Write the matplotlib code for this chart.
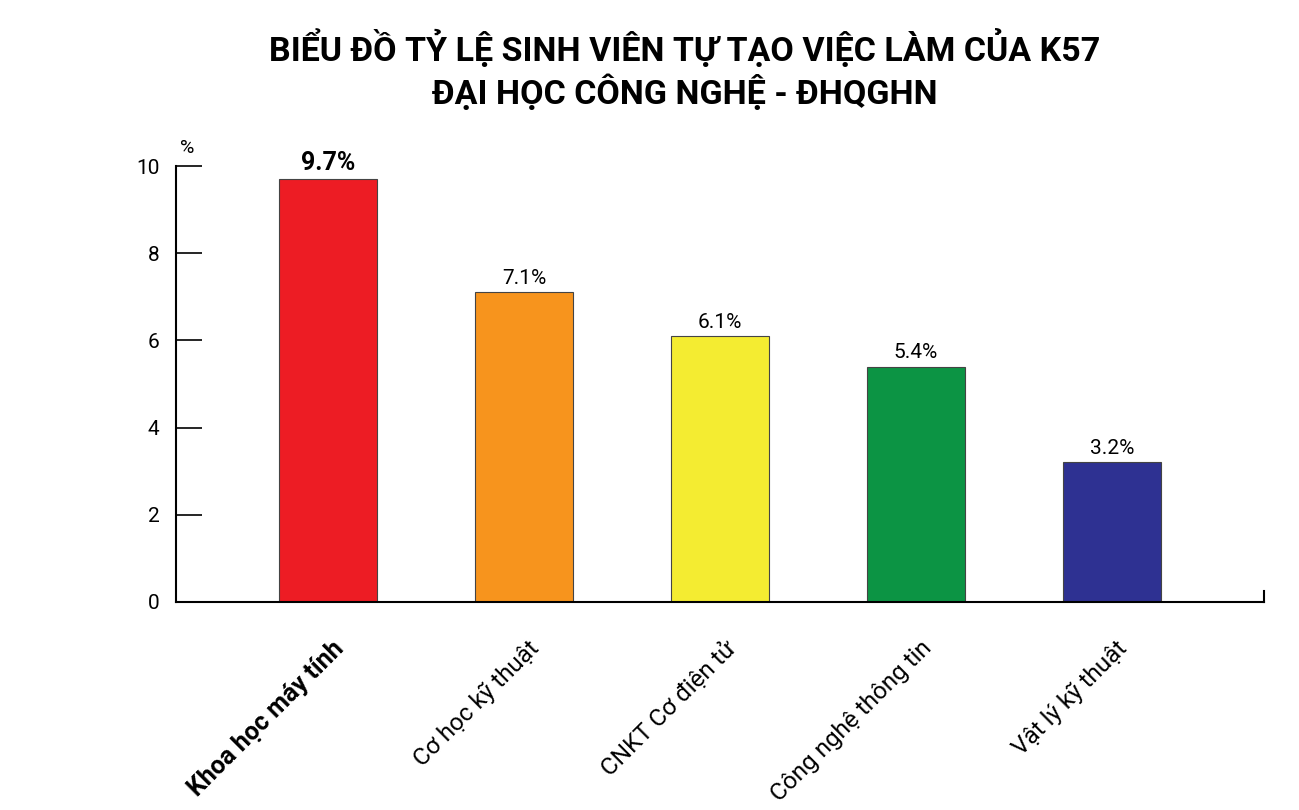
import matplotlib
matplotlib.use("Agg")
import matplotlib.pyplot as plt

plt.rcParams['font.family'] = ['Roboto', 'Noto Sans', 'DejaVu Sans']

# data
majors = ["Khoa học máy tính", "Cơ học kỹ thuật", "CNKT Cơ điện tử",
          "Công nghệ thông tin", "Vật lý kỹ thuật"]
rates = [9.7, 7.1, 6.1, 5.4, 3.2]
bar_colors = ["#ED1C24", "#F7941D", "#F4EC31", "#0C9444", "#2E3192"]
yticks = [0, 2, 4, 6, 8, 10]

fig = plt.figure(figsize=(12.99, 8.10), dpi=100)
ax = fig.add_axes([0.1355, 0.2568, 0.973 - 0.1355, 0.795 - 0.2568])

x = range(len(majors))
bars = ax.bar(x, rates, width=0.5, color=bar_colors,
              edgecolor="#444444", linewidth=0.8)

ax.set_xlim(-0.776, len(majors) - 1 + 0.776)
ax.set_ylim(0, 10)
ax.set_yticks(yticks)
ax.set_yticklabels([str(t) for t in yticks], fontsize=15)
ax.tick_params(axis="y", direction="in", length=19, width=1.2, pad=12)
ax.tick_params(axis="x", length=0)

ax.set_xticks(list(x))
ax.set_xticklabels([])
for i, name in enumerate(majors):
    ax.text(i + 0.02, -0.8, name, rotation=45, ha="right", va="top",
            rotation_mode="anchor", fontsize=18 if i == 0 else 17.5,
            fontweight="bold" if i == 0 else "normal")

ax.spines["top"].set_visible(False)
ax.spines["left"].set_linewidth(1.5)
ax.spines["bottom"].set_linewidth(1.5)
ax.spines["right"].set_linewidth(1.5)
ax.spines["right"].set_bounds(0, 0.25)

for i, (b, v) in enumerate(zip(bars, rates)):
    ax.text(b.get_x() + b.get_width() / 2, v + 0.1, f"{v}%",
            ha="center", va="bottom",
            fontsize=18 if i == 0 else 15,
            fontweight="bold" if i == 0 else "normal")

ax.text(0.01, 1.02, "%", transform=ax.transAxes, ha="center", va="bottom",
        fontsize=14)

fig.text(0.527, 0.94, "BIỂU ĐỒ TỶ LỆ SINH VIÊN TỰ TẠO VIỆC LÀM CỦA K57",
         ha="center", va="center", fontsize=24.5, fontweight="bold")
fig.text(0.527, 0.886, "ĐẠI HỌC CÔNG NGHỆ - ĐHQGHN",
         ha="center", va="center", fontsize=24.5, fontweight="bold")

fig.savefig("out.png", dpi=100)
